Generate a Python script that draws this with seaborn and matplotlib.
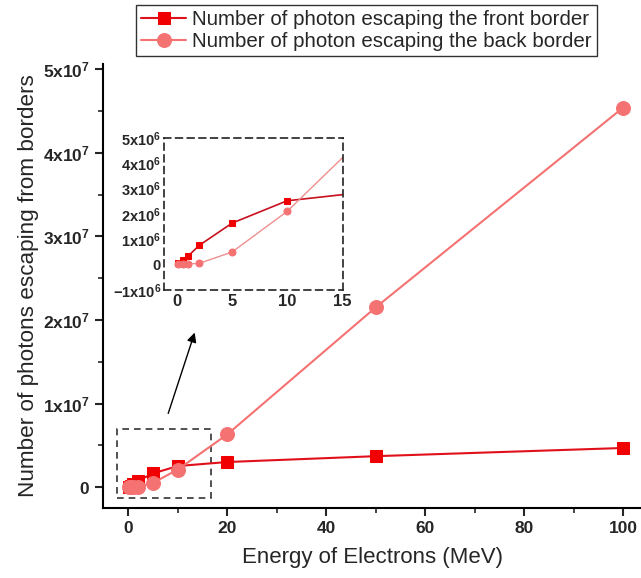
import matplotlib
matplotlib.use("Agg")
import matplotlib.pyplot as plt
import seaborn as sns
import pandas as pd
from matplotlib.ticker import FixedLocator, FuncFormatter
from matplotlib.patches import Rectangle

energy = [0.1, 0.5, 1, 2, 5, 10, 20, 50, 100]
front = [0.05e6, 0.17e6, 0.34e6, 0.76e6, 1.64e6, 2.52e6, 3.0e6, 3.7e6, 4.68e6]
back = [0.01e6, 0.01e6, 0.03e6, 0.05e6, 0.5e6, 2.1e6, 6.3e6, 2.15e7, 4.54e7]
front_label = "Number of photon escaping the front border"
back_label = "Number of photon escaping the back border"

sns.set_style("ticks")
plt.rcParams["font.family"] = ["Liberation Sans", "DejaVu Sans"]
plt.rcParams["mathtext.fontset"] = "custom"
plt.rcParams["mathtext.rm"] = "Liberation Sans"
plt.rcParams["mathtext.bf"] = "Liberation Sans:bold"
plt.rcParams["mathtext.it"] = "Liberation Sans:italic"

df = pd.DataFrame({"E": energy, "front": front, "back": back})

FRONT_C = "#F00000"
FRONT_LINE = "#E0101A"
BACK_C = "#F57272"

fig = plt.figure(figsize=(6.41, 5.78), dpi=100)
ax = fig.add_axes([0.1607, 0.1211, 0.8393, 0.768])

sns.lineplot(data=df, x="E", y="front", ax=ax, color=FRONT_LINE, marker="s",
             markersize=9, markerfacecolor=FRONT_C, markeredgecolor=FRONT_C,
             linewidth=1.5, label=front_label)
sns.lineplot(data=df, x="E", y="back", ax=ax, color=BACK_C, marker="o",
             markersize=10, markerfacecolor=BACK_C, markeredgecolor=BACK_C,
             linewidth=1.5, label=back_label)

ax.set_xlim(-5.1, 103.6)
ax.set_ylim(-0.25e7, 5.06e7)
ax.spines["top"].set_visible(False)
ax.spines["right"].set_visible(False)
for s in ("left", "bottom"):
    ax.spines[s].set_linewidth(1.5)
    ax.spines[s].set_color("black")

ax.xaxis.set_major_locator(FixedLocator([0, 20, 40, 60, 80, 100]))
ax.xaxis.set_minor_locator(FixedLocator([10, 30, 50, 70, 90]))
ax.yaxis.set_major_locator(FixedLocator([0, 1e7, 2e7, 3e7, 4e7, 5e7]))
ax.yaxis.set_minor_locator(FixedLocator([0.5e7, 1.5e7, 2.5e7, 3.5e7, 4.5e7]))


def sci_fmt(exp):
    def f(v, pos):
        if abs(v) < 1e-9:
            return r"$\mathbf{0}$"
        m = v / 10 ** exp
        return r"$\mathbf{%dx10^{%d}}$" % (round(m), exp)
    return f


ax.xaxis.set_major_formatter(FuncFormatter(lambda v, p: "%d" % v))
ax.yaxis.set_major_formatter(FuncFormatter(sci_fmt(7)))
ax.tick_params(axis="both", which="major", direction="out", length=6, width=1.5,
               labelsize=12.5)
ax.tick_params(axis="both", which="minor", direction="out", length=3.5, width=1.2)
for t in ax.get_xticklabels():
    t.set_fontweight("bold")

ax.set_xlabel("Energy of Electrons (MeV)", fontsize=16, labelpad=8)
ax.set_ylabel("Number of photons escaping from borders", fontsize=16.2, labelpad=3)

# dashed zoom rectangle
ax.add_patch(Rectangle((-2.2, -0.13e7), 19.0, 0.82e7, fill=False,
                       linestyle=(0, (4, 3)), edgecolor="#333333", linewidth=1.2))
ax.annotate("", xy=(13.6, 1.88e7), xytext=(7.9, 0.85e7),
            arrowprops=dict(arrowstyle="-|>", color="black", lw=1.0,
                            mutation_scale=14))

leg = ax.legend(loc="upper left", bbox_to_anchor=(0.212, 0.992),
                bbox_transform=fig.transFigure, frameon=True, fontsize=14.8,
                handlelength=2.2, handletextpad=0.3, borderpad=0.25,
                labelspacing=0.15, fancybox=False, borderaxespad=0)
leg.get_frame().set_edgecolor("black")
leg.get_frame().set_linewidth(1.0)

# inset
ins = fig.add_axes([0.2559, 0.4983, 0.2793, 0.263])
sns.lineplot(data=df, x="E", y="front", ax=ins, color="#C8101E", marker="s",
             markersize=5, markerfacecolor=FRONT_C, markeredgecolor=FRONT_C,
             linewidth=1.2, legend=False)
sns.lineplot(data=df, x="E", y="back", ax=ins, color="#EE8F8F", marker="o",
             markersize=5, markerfacecolor=BACK_C, markeredgecolor=BACK_C,
             linewidth=1.0, legend=False)
ins.set_xlim(-1.2, 15.1)
ins.set_ylim(-1e6, 5e6)
ins.set_xlabel("")
ins.set_ylabel("")
ins.patch.set_alpha(0)
for s in ins.spines.values():
    s.set_linestyle((0, (4, 3)))
    s.set_linewidth(1.2)
    s.set_color("#222222")
ins.xaxis.set_major_locator(FixedLocator([0, 5, 10, 15]))
ins.yaxis.set_major_locator(FixedLocator([-1e6, 0, 1e6, 2e6, 3e6, 4e6, 5e6]))
ins.xaxis.set_major_formatter(FuncFormatter(lambda v, p: "%d" % v))
ins.yaxis.set_major_formatter(FuncFormatter(sci_fmt(6)))
ins.tick_params(axis="y", which="major", length=0, labelsize=10.5, pad=2)
ins.tick_params(axis="x", which="major", length=0, labelsize=12, pad=3)
for t in ins.get_xticklabels():
    t.set_fontweight("bold")

fig.savefig("out.png", dpi=100)
